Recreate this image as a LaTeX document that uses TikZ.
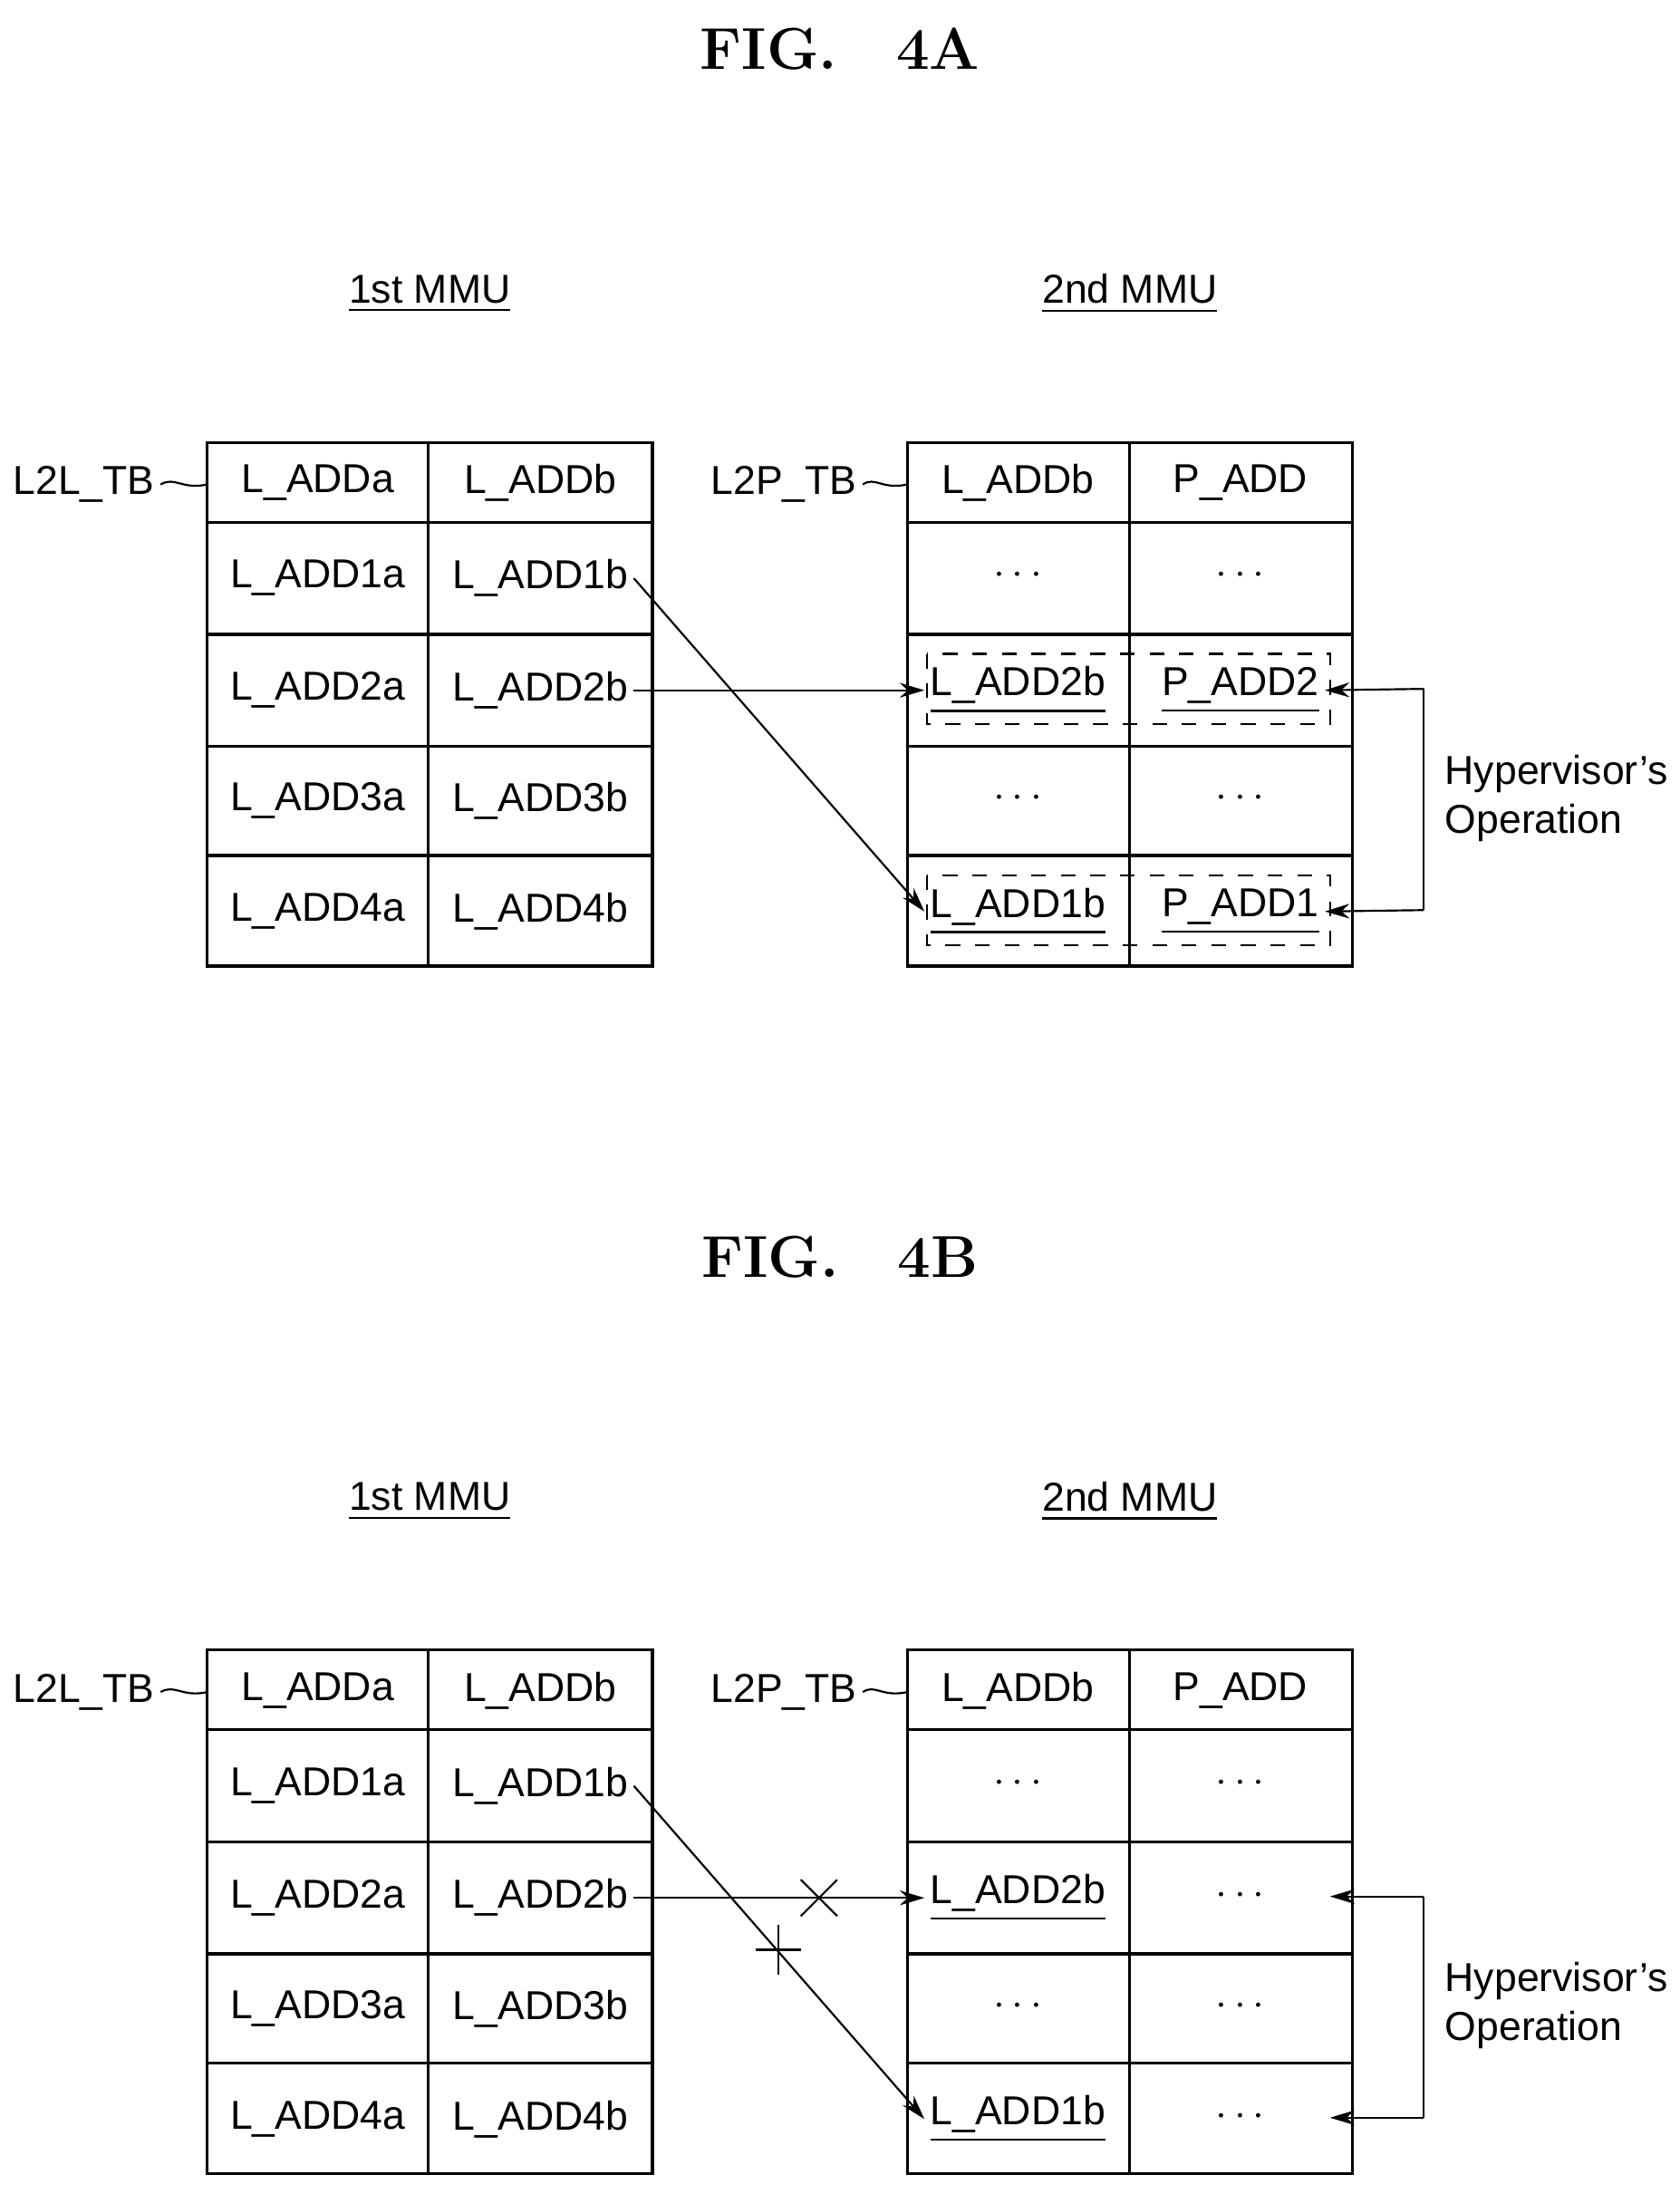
\documentclass[tikz,border=0pt]{standalone}
\usepackage{fontspec}
\setmainfont{Liberation Sans}
\newfontfamily\figfont{Latin Modern Roman}
\usetikzlibrary{arrows.meta, calc}
\tikzset{
  cell/.style={font=\fontsize{8.2}{10}\selectfont, inner sep=1pt},
  lbl/.style={font=\fontsize{8.2}{10}\selectfont, inner sep=1pt},
  title/.style={font=\fontsize{12}{14}\selectfont\figfont\bfseries},
  arr/.style={-{Stealth[length=5pt,width=3pt]}, thin},
  grid/.style={line width=0.6pt},
}
\newcommand{\ul}[1]{\underline{#1}}
\begin{document}
\begin{tikzpicture}[x=0.01cm, y=-0.01cm]
\useasboundingbox (0,0) rectangle (1200,1567);
% ---------- FIG 4A ----------
\node[title] (ta) at (600,35) {FIG.\quad 4A};
\node[lbl] (ma1) at (307,210) {\ul{1st MMU}};
\node[lbl] (ma2) at (807,210) {\ul{2nd MMU}};
\draw[grid] (148,316) rectangle (466,690);
\draw[grid] (648,316) rectangle (966,690);
\foreach \y in {373,453,533,611} {
  \draw[grid] (148,\y) -- (466,\y);
  \draw[grid] (648,\y) -- (966,\y);
}
\draw[grid] (306,316) -- (306,690);
\draw[grid] (807,316) -- (807,690);
\node[lbl] (la) at (60,346) {L2L\_TB};
\node[lbl] (lb) at (560,346) {L2P\_TB};
\draw (la.east) .. controls (125,340) and (130,350) .. (148,346);
\draw (lb.east) .. controls (625,340) and (630,350) .. (648,346);
\node[cell] (a00) at (227,345) {L\_ADDa};  \node[cell] (a01) at (386,345) {L\_ADDb};
\node[cell] (a10) at (227,413) {L\_ADD1a}; \node[cell] (a11) at (386,413) {L\_ADD1b};
\node[cell] (a20) at (227,493) {L\_ADD2a}; \node[cell] (a21) at (386,493) {L\_ADD2b};
\node[cell] (a30) at (227,572) {L\_ADD3a}; \node[cell] (a31) at (386,572) {L\_ADD3b};
\node[cell] (a40) at (227,651) {L\_ADD4a}; \node[cell] (a41) at (386,651) {L\_ADD4b};
\node[cell] (b00) at (727,345) {L\_ADDb};  \node[cell] (b01) at (886,345) {P\_ADD};
\node[cell] (b10) at (727,411) {$\cdots$}; \node[cell] (b11) at (886,411) {$\cdots$};
\node[cell] (b20) at (727,493) {\ul{L\_ADD2b}}; \node[cell] (b21) at (886,493) {\ul{P\_ADD2}};
\node[cell] (b30) at (727,570) {$\cdots$}; \node[cell] (b31) at (886,570) {$\cdots$};
\node[cell] (b40) at (727,651) {\ul{L\_ADD1b}}; \node[cell] (b41) at (886,651) {\ul{P\_ADD1}};
\draw[dashed] (662,467) rectangle (950,517);
\draw[dashed] (662,625) rectangle (950,675);
\draw[arr] (a21.east) -- (b20.west);
\draw[arr] (a11.east) -- (b40.west);
\coordinate (ha1) at (1017,492);
\coordinate (ha2) at (1017,650);
\draw[arr] (ha1) -- (b21.east);
\draw[arr] (ha2) -- (b41.east);
\draw (ha1) -- (ha2);
\node[lbl, anchor=west, align=left] (hopa) at (1028,570) {Hypervisor's\\Operation};
% ---------- FIG 4B ----------
\begin{scope}[yshift=-8.62cm]
\node[title] (tb) at (600,35) {FIG.\quad 4B};
\node[lbl] (mb1) at (307,210) {\ul{1st MMU}};
\node[lbl] (mb2) at (807,210) {\ul{2nd MMU}};
\draw[grid] (148,316) rectangle (466,690);
\draw[grid] (648,316) rectangle (966,690);
\foreach \y in {373,453,533,611} {
  \draw[grid] (148,\y) -- (466,\y);
  \draw[grid] (648,\y) -- (966,\y);
}
\draw[grid] (306,316) -- (306,690);
\draw[grid] (807,316) -- (807,690);
\node[lbl] (lc) at (60,346) {L2L\_TB};
\node[lbl] (ld) at (560,346) {L2P\_TB};
\draw (lc.east) .. controls (125,340) and (130,350) .. (148,346);
\draw (ld.east) .. controls (625,340) and (630,350) .. (648,346);
\node[cell] (c00) at (227,345) {L\_ADDa};  \node[cell] (c01) at (386,345) {L\_ADDb};
\node[cell] (c10) at (227,413) {L\_ADD1a}; \node[cell] (c11) at (386,413) {L\_ADD1b};
\node[cell] (c20) at (227,493) {L\_ADD2a}; \node[cell] (c21) at (386,493) {L\_ADD2b};
\node[cell] (c30) at (227,572) {L\_ADD3a}; \node[cell] (c31) at (386,572) {L\_ADD3b};
\node[cell] (c40) at (227,651) {L\_ADD4a}; \node[cell] (c41) at (386,651) {L\_ADD4b};
\node[cell] (d00) at (727,345) {L\_ADDb};  \node[cell] (d01) at (886,345) {P\_ADD};
\node[cell] (d10) at (727,411) {$\cdots$}; \node[cell] (d11) at (886,411) {$\cdots$};
\node[cell] (d20) at (727,493) {\ul{L\_ADD2b}}; \node[cell] (d21) at (886,491) {$\cdots$};
\node[cell] (d30) at (727,570) {$\cdots$}; \node[cell] (d31) at (886,570) {$\cdots$};
\node[cell] (d40) at (727,651) {\ul{L\_ADD1b}}; \node[cell] (d41) at (886,649) {$\cdots$};
\draw[arr] (c21.east) -- (d20.west);
\draw[arr] (c11.east) -- (d40.west);
\draw (572,480) -- (598,506) (572,506) -- (598,480);
\draw (540,530) -- (572,530) (556,512) -- (556,548);
\coordinate (hb1) at (1017,492);
\coordinate (hb2) at (1017,650);
\draw[arr] (hb1) -- (950,492);
\draw[arr] (hb2) -- (950,650);
\draw (hb1) -- (hb2);
\node[lbl, anchor=west, align=left] (hopb) at (1028,570) {Hypervisor's\\Operation};
\end{scope}
\end{tikzpicture}
\end{document}
